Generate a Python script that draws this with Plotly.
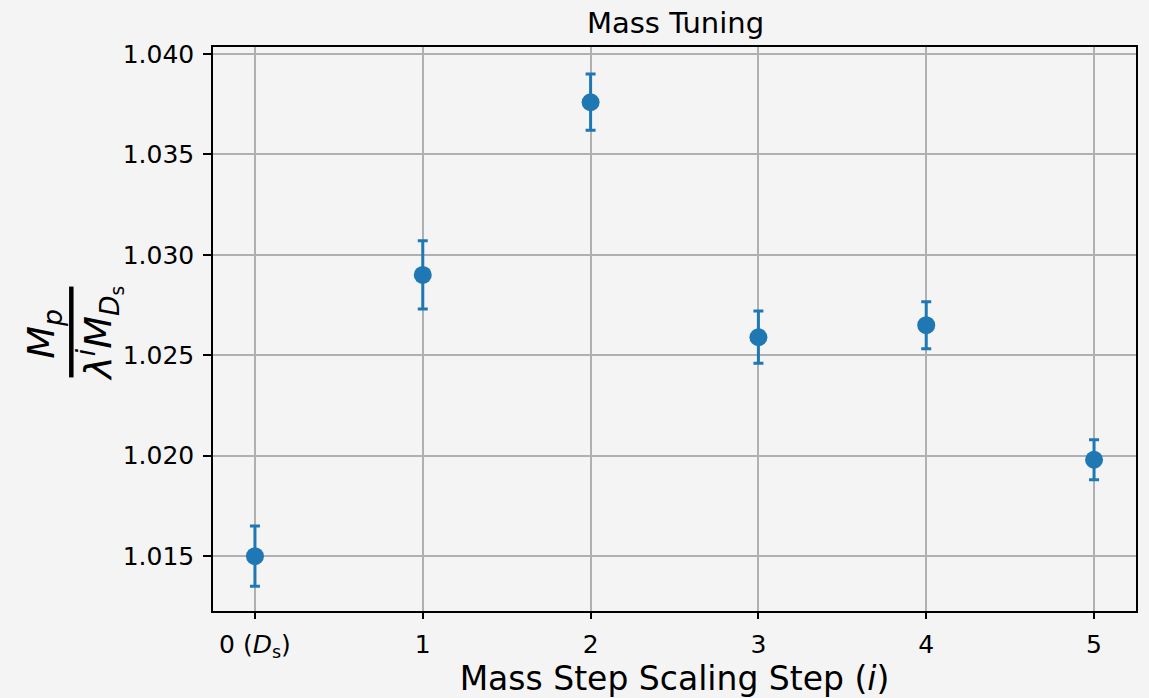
import plotly.graph_objects as go

steps = [0, 1, 2, 3, 4, 5]
step_labels = ["0 (<i>D</i><sub>s</sub>)", "1", "2", "3", "4", "5"]
ratio = [1.0150, 1.0290, 1.0376, 1.0259, 1.0265, 1.0198]
ratio_err = [0.0015, 0.0017, 0.0014, 0.0013, 0.00117, 0.0010]
y_ticks = [1.015, 1.020, 1.025, 1.030, 1.035, 1.040]
y_tick_labels = ["1.015", "1.020", "1.025", "1.030", "1.035", "1.040"]

blue = "#1f77b4"
font = "DejaVu Sans"
W, H = 1149, 698
L, R, T, B = 213, 11, 47, 86
pw, ph = W - L - R, H - T - B

fig = go.Figure()
fig.add_trace(go.Scatter(
    x=steps, y=ratio, mode="markers",
    marker=dict(color=blue, size=18),
    error_y=dict(type="data", array=ratio_err, color=blue, thickness=3, width=5),
    showlegend=False,
))

fig.update_layout(
    width=W, height=H,
    margin=dict(l=L, r=R, t=T, b=B),
    paper_bgcolor="#f4f4f4", plot_bgcolor="#f4f4f4",
    font=dict(family=font, color="black", size=25),
    title=dict(text="Mass Tuning", x=(L + pw / 2) / W, xref="container",
               xanchor="center", y=1 - 23 / H, yref="container", yanchor="middle",
               font=dict(size=29, family=font)),
)
fig.update_xaxes(
    range=[-0.25, 5.25], tickvals=steps, ticktext=step_labels,
    showgrid=True, gridcolor="#b0b0b0", gridwidth=1.5,
    showline=True, linecolor="black", linewidth=1.5, mirror=True,
    ticks="outside", ticklen=6, tickwidth=1.5, tickcolor="black",
    tickfont=dict(size=25), zeroline=False, ticklabelstandoff=4,
    title=dict(text="Mass Step Scaling Step (<i>i</i>)", font=dict(size=33), standoff=2),
)
fig.update_yaxes(
    range=[1.01227, 1.04035], tickvals=y_ticks, ticktext=y_tick_labels,
    showgrid=True, gridcolor="#b0b0b0", gridwidth=1.5,
    showline=True, linecolor="black", linewidth=1.5, mirror=True,
    ticks="outside", ticklen=8, tickwidth=1.5, tickcolor="black",
    tickfont=dict(size=25), zeroline=False, ticklabelstandoff=4,
)

# y-axis label as a rotated fraction
yc = 1 - (334 - T) / ph
fig.add_annotation(text="<i>M</i><sub><i>p</i></sub>", xref="paper", yref="paper",
                   x=(43 - L) / pw, y=yc, xanchor="center", yanchor="middle",
                   textangle=-90, showarrow=False, font=dict(size=38, family=font))
fig.add_annotation(text="<i>λ</i><sup><i>i</i></sup><i>M</i><sub><i>D</i><sub>s</sub></sub>",
                   xref="paper", yref="paper",
                   x=(99 - L) / pw, y=yc, xanchor="center", yanchor="middle",
                   textangle=-90, showarrow=False, font=dict(size=38, family=font))
fig.add_shape(type="line", xref="paper", yref="paper",
              x0=(71 - L) / pw, x1=(71 - L) / pw,
              y0=1 - (287 - T) / ph, y1=1 - (378 - T) / ph,
              line=dict(color="black", width=4.5))

fig.write_html("out.html", config={"displayModeBar": False},
               post_script="document.body.style.margin='0';document.body.style.background='#f4f4f4';")
